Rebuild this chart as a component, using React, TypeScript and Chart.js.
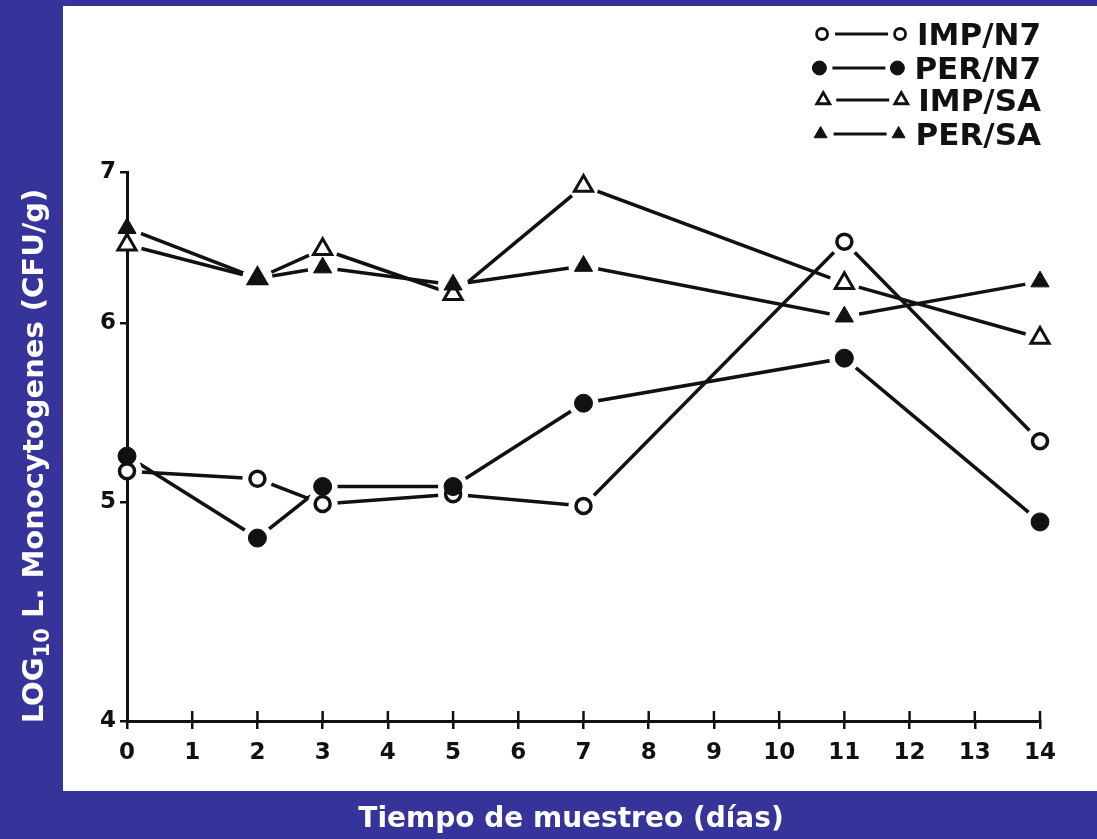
import React, { useEffect, useRef } from "react";
import { Chart, registerables } from "chart.js";

Chart.register(...registerables);

// ---- data ----
const DAYS = [0, 2, 3, 5, 7, 11, 14];
const IMP_N7 = [5.16, 5.12, 4.99, 5.04, 4.98, 6.52, 5.32];
const PER_N7 = [5.24, 4.82, 5.08, 5.08, 5.53, 5.79, 4.9];
const IMP_SA = [6.5, 6.28, 6.47, 6.18, 6.9, 6.25, 5.91];
const PER_SA = [6.61, 6.28, 6.35, 6.24, 6.36, 6.04, 6.26];
const SERIES_LABELS = ["IMP/N7", "PER/N7", "IMP/SA", "PER/SA"];
const X_TICKS = [0, 1, 2, 3, 4, 5, 6, 7, 8, 9, 10, 11, 12, 13, 14];
const Y_TICKS = [4, 5, 6, 7];
const X_TITLE = "Tiempo de muestreo (días)";
const Y_TITLE_MAIN = "LOG";
const Y_TITLE_SUB = "10";
const Y_TITLE_REST = " L. Monocytogenes (CFU/g)";

// ---- styles ----
const W = 1097;
const H = 839;
const NAVY = "#36349a";
const INK = "#111111";
const GAP_R = 15;
const FONT = "'DejaVu Sans', Verdana, sans-serif";

type Style = { shape: "circle" | "triangle"; filled: boolean };
const STYLES: Style[] = [
  { shape: "circle", filled: false },
  { shape: "circle", filled: true },
  { shape: "triangle", filled: false },
  { shape: "triangle", filled: true },
];
const SERIES_VALUES = [IMP_N7, PER_N7, IMP_SA, PER_SA];

function markerRadius(s: Style) {
  if (s.shape === "circle") return s.filled ? 9 : 7.5;
  return 10.5;
}

function drawMarker(ctx: CanvasRenderingContext2D, s: Style, x: number, y: number, r: number) {
  ctx.beginPath();
  if (s.shape === "circle") {
    ctx.arc(x, y, r, 0, Math.PI * 2);
  } else {
    const a = Math.sin((2 * Math.PI) / 3) * r;
    ctx.moveTo(x, y - r);
    ctx.lineTo(x + a, y + r * 0.5);
    ctx.lineTo(x - a, y + r * 0.5);
    ctx.closePath();
  }
  ctx.fillStyle = s.filled ? INK : "#ffffff";
  ctx.fill();
  ctx.lineWidth = s.filled ? 1 : 2.8;
  ctx.strokeStyle = INK;
  ctx.stroke();
}

const backgroundPlugin = {
  id: "panelBackground",
  beforeDraw(chart: any) {
    const ctx = chart.ctx as CanvasRenderingContext2D;
    ctx.save();
    ctx.fillStyle = NAVY;
    ctx.fillRect(0, 0, chart.width, chart.height);
    ctx.fillStyle = "#ffffff";
    ctx.fillRect(63, 6, chart.width - 63, 791 - 6);
    ctx.restore();
  },
};

const crossTicksPlugin = {
  id: "crossTicks",
  beforeDatasetsDraw(chart: any) {
    const xs = chart.scales.x;
    const ctx = chart.ctx as CanvasRenderingContext2D;
    const yb = chart.chartArea.bottom;
    ctx.save();
    ctx.strokeStyle = INK;
    ctx.lineWidth = 2.5;
    xs.ticks.forEach((t: any) => {
      if (t.value === 0) return;
      const px = xs.getPixelForValue(t.value);
      ctx.beginPath();
      ctx.moveTo(px, yb - 10);
      ctx.lineTo(px, yb);
      ctx.stroke();
    });
    ctx.restore();
  },
};

// Lines are clipped so that they stop short of every marker, leaving the
// small white gaps of the original drawing.
const gapPlugin = {
  id: "markerGaps",
  beforeDatasetDraw(chart: any, args: any) {
    const n = SERIES_LABELS.length;
    if (args.index >= n) return;
    const ctx = chart.ctx as CanvasRenderingContext2D;
    ctx.save();
    for (let si = 0; si < n; si++) {
      const meta = chart.getDatasetMeta(n + si);
      meta.data.forEach((pt: any) => {
        ctx.beginPath();
        ctx.rect(0, 0, chart.width, chart.height);
        ctx.moveTo(pt.x + GAP_R, pt.y);
        ctx.arc(pt.x, pt.y, GAP_R, 0, Math.PI * 2);
        ctx.closePath();
        ctx.clip("evenodd");
      });
    }
  },
  afterDatasetDraw(chart: any, args: any) {
    if (args.index >= SERIES_LABELS.length) return;
    chart.ctx.restore();
  },
};

const legendPlugin = {
  id: "markerLegend",
  afterDraw(chart: any) {
    const ctx = chart.ctx as CanvasRenderingContext2D;
    const rows = [34, 68, 100, 134];
    const right = 1041;
    ctx.save();
    ctx.font = `bold 31px ${FONT}`;
    ctx.textAlign = "left";
    ctx.textBaseline = "alphabetic";
    SERIES_LABELS.forEach((label, i) => {
      const y = rows[i];
      const w = ctx.measureText(label).width;
      const tx = right - w;
      ctx.fillStyle = INK;
      ctx.fillText(label, tx, y + 11);
      const s = STYLES[i];
      const r = s.shape === "circle" ? (s.filled ? 7 : 5.5) : 7.5;
      const m2 = tx - 17;
      const m1 = m2 - 78;
      ctx.beginPath();
      ctx.moveTo(m1 + 13, y);
      ctx.lineTo(m2 - 12, y);
      ctx.lineWidth = 3;
      ctx.strokeStyle = INK;
      ctx.stroke();
      drawMarker(ctx, s, m1, y, r);
      drawMarker(ctx, s, m2, y, r);
    });
    ctx.restore();
  },
};

const titlesPlugin = {
  id: "frameTitles",
  afterDraw(chart: any) {
    const ctx = chart.ctx as CanvasRenderingContext2D;
    ctx.save();
    ctx.fillStyle = "#ffffff";
    ctx.font = `bold 28px ${FONT}`;
    ctx.textAlign = "center";
    ctx.textBaseline = "alphabetic";
    ctx.fillText(X_TITLE, 571, 827);
    ctx.restore();

    ctx.save();
    ctx.fillStyle = "#ffffff";
    ctx.textAlign = "left";
    ctx.textBaseline = "alphabetic";
    const mainFont = `bold 29px ${FONT}`;
    const subFont = `bold 21px ${FONT}`;
    ctx.font = mainFont;
    const w1 = ctx.measureText(Y_TITLE_MAIN).width;
    const w3 = ctx.measureText(Y_TITLE_REST).width;
    ctx.font = subFont;
    const w2 = ctx.measureText(Y_TITLE_SUB).width;
    const total = w1 + w2 + w3;
    ctx.translate(43, 456 + total / 2);
    ctx.rotate(-Math.PI / 2);
    ctx.font = mainFont;
    ctx.fillText(Y_TITLE_MAIN, 0, 0);
    ctx.font = subFont;
    ctx.fillText(Y_TITLE_SUB, w1, 6);
    ctx.font = mainFont;
    ctx.fillText(Y_TITLE_REST, w1 + w2, 0);
    ctx.restore();
  },
};

function buildDatasets() {
  const lines: any[] = [];
  const markers: any[] = [];
  SERIES_VALUES.forEach((vals, i) => {
    const pts = DAYS.map((d, j) => ({ x: d, y: vals[j] }));
    const s = STYLES[i];
    lines.push({
      label: SERIES_LABELS[i] + " line",
      data: pts,
      showLine: true,
      borderColor: INK,
      borderWidth: 3.5,
      pointRadius: 0,
      tension: 0,
      clip: false,
      order: 20 + i,
    });
    markers.push({
      label: SERIES_LABELS[i],
      data: pts,
      showLine: false,
      pointStyle: s.shape,
      pointRadius: markerRadius(s),
      pointBackgroundColor: s.filled ? INK : "#ffffff",
      pointBorderColor: INK,
      pointBorderWidth: s.filled ? 1 : s.shape === "circle" ? 3.5 : 3,
      clip: false,
      order: s.filled ? 1 + i : 10 + i,
    });
  });
  return [...lines, ...markers];
}

export default function App() {
  const ref = useRef<HTMLCanvasElement | null>(null);
  useEffect(() => {
    document.body.style.margin = "0";
    document.body.style.overflow = "hidden";
    const canvas = ref.current;
    if (!canvas) return;
    const tickFont = { family: FONT, weight: "bold" as const, size: 23 };
    const chart = new Chart(canvas, {
      type: "scatter",
      data: { datasets: buildDatasets() },
      options: {
        responsive: false,
        animation: false,
        events: [],
        layout: { padding: { top: 172, right: 57, left: 0, bottom: 0 } },
        plugins: {
          legend: { display: false },
          tooltip: { enabled: false },
          title: { display: false },
        },
        scales: {
          x: {
            type: "linear",
            min: 0,
            max: 14,
            afterBuildTicks: (s: any) => {
              s.ticks = X_TICKS.map((v) => ({ value: v }));
            },
            afterFit: (s: any) => {
              s.height = 839 - 721;
            },
            ticks: {
              font: tickFont,
              color: INK,
              padding: 10,
              autoSkip: false,
              maxRotation: 0,
              callback: (v: any) => String(v),
            },
            grid: {
              drawOnChartArea: false,
              drawTicks: true,
              tickLength: 8,
              color: INK,
              lineWidth: 2.5,
            },
            border: { display: true, color: INK, width: 3 },
          },
          y: {
            type: "logarithmic",
            min: 4,
            max: 7,
            afterBuildTicks: (s: any) => {
              s.ticks = Y_TICKS.map((v) => ({ value: v }));
            },
            afterFit: (s: any) => {
              s.width = 127;
            },
            ticks: {
              font: tickFont,
              color: INK,
              padding: 4,
              autoSkip: false,
              callback: (v: any) => String(v),
            },
            grid: {
              drawOnChartArea: false,
              drawTicks: true,
              tickLength: 7,
              color: INK,
              lineWidth: 2.5,
            },
            border: { display: true, color: INK, width: 3 },
          },
        },
      },
      plugins: [backgroundPlugin, crossTicksPlugin, gapPlugin, legendPlugin, titlesPlugin],
    } as any);
    return () => chart.destroy();
  }, []);
  return (
    <div style={{ width: W, height: H }}>
      <canvas ref={ref} width={W} height={H} style={{ display: "block", width: W, height: H }} />
    </div>
  );
}
